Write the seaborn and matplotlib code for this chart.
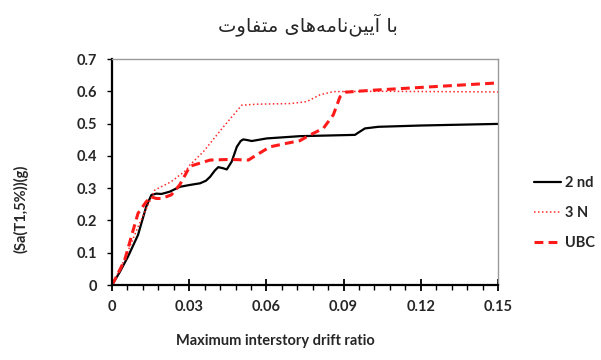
import matplotlib
matplotlib.use("Agg")
import matplotlib.pyplot as plt
import pandas as pd
import seaborn as sns
from matplotlib import font_manager, ft2font
from matplotlib.ticker import MultipleLocator

# ---- data -------------------------------------------------------------
title_text = "با آیین‌نامه‌های متفاوت"
x_label = "Maximum interstory drift ratio"
y_label = "(Sa(T1,5%))(g)"
codes = ["2 nd", "3 N", "UBC"]

drift_2nd = [0, 0.0030, 0.0062, 0.0101, 0.0133, 0.0153, 0.0172, 0.0192, 0.0224, 0.0263,
             0.0303, 0.0342, 0.0365, 0.0381, 0.0400, 0.0413, 0.0430, 0.0446, 0.0465,
             0.0485, 0.0500, 0.0510, 0.0525, 0.0543, 0.0601, 0.0730, 0.0944, 0.0965,
             0.0983, 0.1035, 0.1200, 0.1500]
sa_2nd = [0, 0.040, 0.088, 0.155, 0.243, 0.279, 0.283, 0.282, 0.289, 0.304,
          0.310, 0.315, 0.323, 0.335, 0.355, 0.365, 0.362, 0.358, 0.382,
          0.428, 0.446, 0.451, 0.449, 0.446, 0.454, 0.461, 0.465, 0.476,
          0.485, 0.490, 0.494, 0.499]

drift_3n = [0, 0.0049, 0.0101, 0.0146, 0.0166, 0.0230, 0.0289, 0.0303, 0.0355,
            0.0433, 0.0504, 0.0562, 0.0692, 0.0757, 0.0808, 0.0860, 0.1029, 0.1500]
sa_3n = [0, 0.080, 0.180, 0.258, 0.294, 0.320, 0.356, 0.372, 0.413,
         0.490, 0.557, 0.560, 0.562, 0.568, 0.589, 0.599, 0.600, 0.598]

drift_ubc = [0, 0.0010, 0.0049, 0.0075, 0.0101, 0.0133, 0.0153, 0.0172, 0.0192,
             0.0230, 0.0263, 0.0303, 0.0381, 0.0459, 0.0530, 0.0562, 0.0614,
             0.0679, 0.0730, 0.0770, 0.0821, 0.0860, 0.0886, 0.0906, 0.0970,
             0.1029, 0.1200, 0.1500]
sa_ubc = [0, 0.015, 0.077, 0.150, 0.222, 0.258, 0.273, 0.268, 0.268,
          0.279, 0.310, 0.368, 0.387, 0.389, 0.387, 0.403, 0.428,
          0.439, 0.447, 0.465, 0.485, 0.527, 0.583, 0.597, 0.601,
          0.604, 0.612, 0.626]

x_ticks = [0, 0.03, 0.06, 0.09, 0.12, 0.15]
x_tick_labels = ["0", "0.03", "0.06", "0.09", "0.12", "0.15"]
y_ticks = [0, 0.1, 0.2, 0.3, 0.4, 0.5, 0.6, 0.7]
y_tick_labels = ["0", "0.1", "0.2", "0.3", "0.4", "0.5", "0.6", "0.7"]

# ---- Arabic-script shaping (matplotlib lays glyphs out left to right) --
TITLE_FONT = "DejaVu Sans"
_FORMS = {  # isolated, final, initial, medial
    "\u0628": ("\uFE8F", "\uFE90", "\uFE91", "\uFE92"),
    "\u062A": ("\uFE95", "\uFE96", "\uFE97", "\uFE98"),
    "\u0641": ("\uFED1", "\uFED2", "\uFED3", "\uFED4"),
    "\u0645": ("\uFEE1", "\uFEE2", "\uFEE3", "\uFEE4"),
    "\u0646": ("\uFEE5", "\uFEE6", "\uFEE7", "\uFEE8"),
    "\u0647": ("\uFEE9", "\uFEEA", "\uFEEB", "\uFEEC"),
    "\u06CC": ("\uFBFC", "\uFBFD", "\uFBFE", "\uFBFF"),
    "\u0627": ("\uFE8D", "\uFE8E", None, None),
    "\u0622": ("\uFE81", "\uFE82", None, None),
    "\u0648": ("\uFEED", "\uFEEE", None, None),
}
_font_path = font_manager.findfont(font_manager.FontProperties(family=TITLE_FONT))
if ft2font.FT2Font(_font_path).get_char_index(0xFBFC) == 0:
    _FORMS["\u06CC"] = ("\uFEEF", "\uFEF0", "\uFEF3", "\uFEF4")


def shape_rtl(text):
    out = []
    for i, ch in enumerate(text):
        forms = _FORMS.get(ch)
        if forms is None:
            if ch != "\u200c":
                out.append(ch)
            continue
        prev = text[i - 1] if i > 0 else ""
        nxt = text[i + 1] if i + 1 < len(text) else ""
        joins_prev = prev in _FORMS and _FORMS[prev][2] is not None
        joins_next = forms[2] is not None and nxt in _FORMS
        if joins_prev and joins_next:
            out.append(forms[3])
        elif joins_prev:
            out.append(forms[1])
        elif joins_next:
            out.append(forms[2])
        else:
            out.append(forms[0])
    return "".join(reversed(out))


# ---- figure -----------------------------------------------------------
sns.set_theme(style="white")
plt.rcParams["font.family"] = ["Lato", "DejaVu Sans"]

fig = plt.figure(figsize=(6.01, 3.60), dpi=100)
ax = fig.add_axes([0.1864, 0.2083, 0.6422, 0.6278])

series = [
    (codes[0], drift_2nd, sa_2nd, dict(color="black", linewidth=1.6)),
    (codes[1], drift_3n, sa_3n, dict(color="#ff2a2a", linewidth=1.1, dashes=(1.0, 1.6))),
    (codes[2], drift_ubc, sa_ubc, dict(color="#ff1a1a", linewidth=2.2, dashes=(2.9, 1.7))),
]
for name, xs, ys, style in series:
    df = pd.DataFrame({"drift": xs, "sa": ys})
    sns.lineplot(data=df, x="drift", y="sa", ax=ax, sort=False, estimator=None,
                 label=name, **style)

ax.set_xlim(0, 0.15)
ax.set_ylim(0, 0.7)
ax.set_xticks(x_ticks)
ax.set_xticklabels(x_tick_labels)
ax.set_yticks(y_ticks)
ax.set_yticklabels(y_tick_labels)
ax.xaxis.set_minor_locator(MultipleLocator(0.006))

for lab in ax.get_xticklabels() + ax.get_yticklabels():
    lab.set_fontweight("bold")
    lab.set_fontsize(10.5)

ax.tick_params(axis="x", which="major", direction="inout", length=9, width=1.3,
               color="black", pad=6, bottom=True)
ax.tick_params(axis="x", which="minor", direction="out", length=3.5, width=1.0,
               color="black", bottom=True)
ax.tick_params(axis="y", which="major", direction="out", length=3.6, width=1.0,
               color="black", pad=7, left=True)

for side in ("left", "bottom"):
    ax.spines[side].set_color("black")
    ax.spines[side].set_linewidth(1.6)
for side in ("top", "right"):
    ax.spines[side].set_color("#9a9a9a")
    ax.spines[side].set_linewidth(1.0)

ax.set_xlabel(x_label, fontsize=10.5, fontweight="bold")
ax.xaxis.set_label_coords(0.4236, -0.218)
ax.set_ylabel(y_label, fontsize=10.5, fontweight="bold")
ax.yaxis.set_label_coords(-0.217, 0.336)

fig.text(0.512, 0.932, shape_rtl(title_text), ha="center", va="center",
         fontsize=14, family=[TITLE_FONT])

handles, labels = ax.get_legend_handles_labels()
ax.get_legend().remove()
fig.legend(handles, labels, loc="upper left", bbox_to_anchor=(0.888, 0.512),
           frameon=False, borderaxespad=0, borderpad=0, handlelength=1.9,
           handletextpad=0.25, labelspacing=1.1,
           prop=dict(weight="bold", size=10.5))

fig.savefig("out.png", dpi=100, facecolor="white")
